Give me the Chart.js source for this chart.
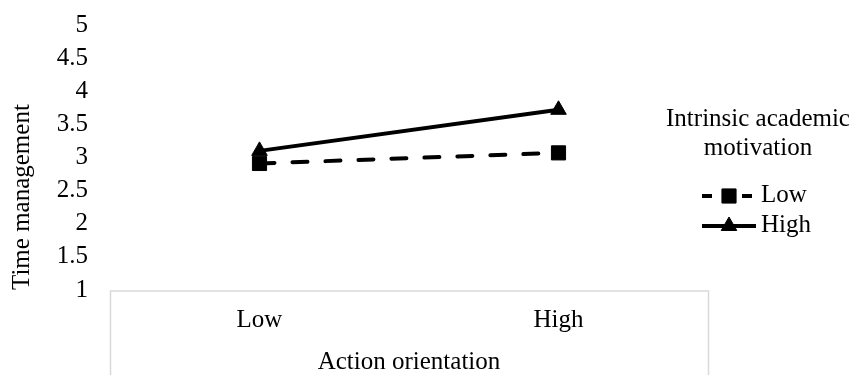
<!DOCTYPE html>
<html>
<head>
<meta charset="utf-8">
<script src="https://cdn.jsdelivr.net/npm/chart.js@4/dist/chart.umd.min.js"></script>
<style>
  html, body { margin: 0; padding: 0; background: #fff; }
  #wrap { width: 864px; height: 375px; }
</style>
</head>
<body>
<div id="wrap"><canvas id="mycanvas" width="864" height="375"></canvas></div>
<script>
// values
var categories = ['Low', 'High'];
var lowMotivation = [2.91, 3.07];
var highMotivation = [3.10, 3.72];
var seriesNames = ['Low', 'High'];
var legendTitle = ['Intrinsic academic', 'motivation'];
var xTitle = 'Action orientation';
var yTitle = 'Time management';

var serif = "'Liberation Serif', 'Times New Roman', serif";
Chart.defaults.font.family = serif;
Chart.defaults.font.size = 25;
Chart.defaults.color = '#000';

// light grey frame round the category axis, like the original
var axisBox = {
  id: 'axisBox',
  beforeDraw: function(chart) {
    var x = chart.scales.x;
    var ctx = chart.ctx;
    ctx.save();
    ctx.strokeStyle = '#d9d9d9';
    ctx.lineWidth = 1.5;
    ctx.strokeRect(x.left + 0.5, x.top + 1, x.right - x.left, x.bottom - x.top + 10);
    ctx.restore();
  }
};

// legend with line + marker samples and a two line title
var sideLegend = {
  id: 'sideLegend',
  afterDraw: function(chart) {
    var ctx = chart.ctx;
    var cx = 758;
    ctx.save();
    ctx.fillStyle = '#000';
    ctx.font = '25px ' + serif;
    ctx.textAlign = 'center';
    ctx.textBaseline = 'alphabetic';
    ctx.fillText(legendTitle[0], cx, 126);
    ctx.fillText(legendTitle[1], cx, 155);

    var rows = [196, 226];
    chart.data.datasets.forEach(function(ds, i) {
      var y = rows[i];
      ctx.save();
      ctx.strokeStyle = ds.borderColor;
      ctx.lineWidth = ds.borderWidth;
      ctx.setLineDash(i === 0 ? [10, 30] : []);
      ctx.beginPath();
      ctx.moveTo(702, y);
      ctx.lineTo(756, y);
      ctx.stroke();
      ctx.restore();
      ctx.fillStyle = '#000';
      ctx.strokeStyle = '#000';
      ctx.lineWidth = 1;
      Chart.helpers.drawPoint(ctx, {
        pointStyle: ds.pointStyle,
        radius: ds.pointRadius,
        rotation: 0,
        borderWidth: 1
      }, 729, y);
      ctx.textAlign = 'left';
      ctx.textBaseline = 'alphabetic';
      ctx.fillText(ds.label, 761, y + 6);
    });
    ctx.restore();
  }
};

var chartdata = {
  labels: categories,
  datasets: [
    {
      label: seriesNames[0],
      data: lowMotivation,
      borderColor: '#000',
      backgroundColor: '#000',
      borderWidth: 4,
      borderDash: [15, 18],
      borderCapStyle: 'round',
      pointStyle: 'rect',
      pointRadius: 10,
      pointBorderWidth: 1,
      pointBackgroundColor: '#000',
      pointBorderColor: '#000'
    },
    {
      label: seriesNames[1],
      data: highMotivation,
      borderColor: '#000',
      backgroundColor: '#000',
      borderWidth: 4,
      pointStyle: 'triangle',
      pointRadius: 9,
      pointBorderWidth: 1,
      pointBackgroundColor: '#000',
      pointBorderColor: '#000'
    }
  ]
};

var ctx = document.getElementById('mycanvas');
var LineGraph = new Chart(ctx, {
  type: 'line',
  data: chartdata,
  options: {
    responsive: false,
    animation: false,
    devicePixelRatio: 1,
    layout: { padding: { top: 25, right: 156, bottom: 0, left: 0 } },
    plugins: {
      legend: { display: false },
      tooltip: { enabled: false }
    },
    scales: {
      x: {
        type: 'category',
        offset: true,
        grid: { display: false, drawTicks: false },
        border: { display: false },
        ticks: { padding: 15, font: { size: 25 } },
        title: {
          display: true,
          text: xTitle,
          font: { size: 25, lineHeight: 1 },
          padding: { top: 0, bottom: 0 }
        },
        afterFit: function(scale) { scale.height = 85; }
      },
      y: {
        min: 1,
        max: 5,
        grid: { display: false, drawTicks: false },
        border: { display: false },
        ticks: {
          stepSize: 0.5,
          autoSkip: false,
          padding: 22,
          font: { size: 25 },
          callback: function(v) { return String(v); }
        },
        title: {
          display: true,
          text: yTitle,
          align: 'start',
          font: { size: 25 },
          padding: { top: 7, bottom: 0 }
        },
        afterFit: function(scale) {
          scale.width = 110;
          // tick padding is otherwise added above the top label
          scale.paddingTop = 0;
          scale.paddingBottom = 0;
        }
      }
    }
  },
  plugins: [axisBox, sideLegend]
});
</script>
</body>
</html>
